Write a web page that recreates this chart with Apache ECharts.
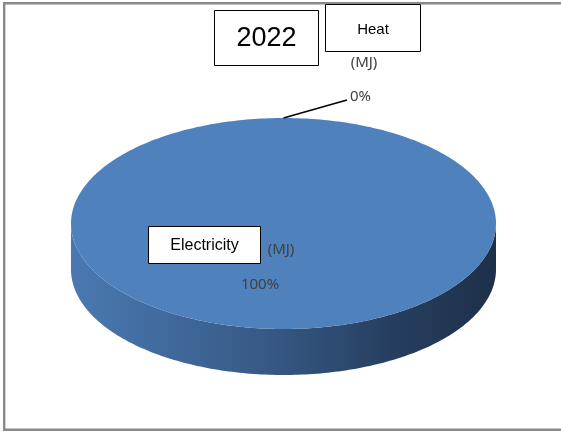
<!DOCTYPE html>
<html>
<head>
<meta charset="utf-8">
<script src="https://cdn.jsdelivr.net/npm/echarts@6/dist/echarts.min.js"></script>
<style>
  html, body { margin: 0; padding: 0; background: #fff; }
  #chart { width: 561px; height: 432px; }
</style>
</head>
<body>
<div id="chart"></div>
<script>
// Energy split for the year, as shares of the total
const categories = ['Electricity', 'Heat'];
const shares = [100, 0];
const unit = '(MJ)';
const year = '2022';

// Geometry of the tilted (3D-looking) pie
const pie = { cx: 283.5, cy: 223.5, rx: 212.5, ry: 105.5, depth: 46 };
const topColor = '#4f81bd';

const total = shares.reduce((a, b) => a + b, 0);
const startAngles = [];
let acc = 0;
shares.forEach(v => { startAngles.push(acc / total * 360); acc += v; });

// angle in degrees, clockwise from 12 o'clock
function pt(deg, dy) {
  const r = deg * Math.PI / 180;
  return [pie.cx + pie.rx * Math.sin(r), pie.cy - pie.ry * Math.cos(r) + (dy || 0)];
}
function arc(a0, a1, dy) {
  const n = Math.max(2, Math.ceil(Math.abs(a1 - a0)));
  const out = [];
  for (let i = 0; i <= n; i++) out.push(pt(a0 + (a1 - a0) * i / n, dy));
  return out;
}
function pctText(v) { return Math.round(v / total * 100) + '%'; }

const labelFont = '15px "Noto Sans"';

const sideGradient = new echarts.graphic.LinearGradient(
  pie.cx - pie.rx, 0, pie.cx + pie.rx, 0,
  [
    { offset: 0, color: '#4a79b2' },
    { offset: 0.45, color: '#375a86' },
    { offset: 0.75, color: '#263f60' },
    { offset: 1, color: '#1e3049' }
  ],
  true
);

function renderSlice(params, api) {
  const i = params.dataIndex;
  const v = api.value(1);
  const a0 = startAngles[i];
  const a1 = a0 + v / total * 360;
  const children = [];
  if (a1 > a0) {
    // front wall: only the part facing the viewer (3 o'clock to 9 o'clock via 6)
    const s = Math.max(a0, 90), e = Math.min(a1, 270);
    if (e > s) {
      const wall = arc(s, e, 0).concat(arc(e, s, pie.depth));
      children.push({ type: 'polygon', shape: { points: wall }, style: { fill: sideGradient }, z2: 1 });
    }
    const face = (a1 - a0 >= 360) ? arc(a0, a1, 0) : [[pie.cx, pie.cy]].concat(arc(a0, a1, 0));
    children.push({ type: 'polygon', shape: { points: face }, style: { fill: topColor }, z2: 2 });
  }
  if (v / total < 0.05) {
    // thin slice: pull the label out with a leader line
    const p = pt((a0 + a1) / 2, 0);
    children.push({
      type: 'line',
      shape: { x1: p[0], y1: p[1], x2: 347, y2: 100 },
      style: { stroke: '#000', lineWidth: 1.5 },
      z2: 3
    });
    children.push({
      type: 'text',
      x: 350, y: 97,
      style: { text: pctText(v), fill: '#404040', font: labelFont, align: 'left', verticalAlign: 'middle' },
      z2: 3
    });
  } else {
    children.push({
      type: 'text',
      x: 260, y: 285,
      style: { text: pctText(v), fill: '#404040', font: labelFont, align: 'center', verticalAlign: 'middle' },
      z2: 3
    });
  }
  return { type: 'group', children };
}

const boxFont = '"Liberation Sans", Arial, sans-serif';
const chart = echarts.init(document.getElementById('chart'), null, { renderer: 'canvas' });
chart.setOption({
  animation: false,
  backgroundColor: '#fff',
  series: [{
    type: 'custom',
    coordinateSystem: 'none',
    renderItem: renderSlice,
    data: categories.map((c, i) => ({ name: c, value: [i, shares[i]] }))
  }],
  graphic: [
    // chart area frame
    { type: 'rect', shape: { x: 4.2, y: 3.2, width: 600, height: 426.5 }, style: { fill: 'none', stroke: '#8a8a8a', lineWidth: 2.4 }, z: 0 },
    // year box
    { type: 'rect', shape: { x: 214.5, y: 10.5, width: 104, height: 55 }, style: { fill: '#fff', stroke: '#000', lineWidth: 1 }, z: 5 },
    { type: 'text', x: 266.5, y: 38.5, style: { text: year, font: '27px ' + boxFont, fill: '#000', align: 'center', verticalAlign: 'middle' }, z: 6 },
    // Heat label
    { type: 'rect', shape: { x: 325.5, y: 4.5, width: 95, height: 47 }, style: { fill: '#fff', stroke: '#000', lineWidth: 1 }, z: 5 },
    { type: 'text', x: 373, y: 29.5, style: { text: categories[1], font: '15px ' + boxFont, fill: '#000', align: 'center', verticalAlign: 'middle' }, z: 6 },
    { type: 'text', x: 364, y: 63, style: { text: unit, font: labelFont, fill: '#404040', align: 'center', verticalAlign: 'middle' }, z: 6 },
    // Electricity label
    { type: 'rect', shape: { x: 148.5, y: 226.5, width: 112, height: 37 }, style: { fill: '#fff', stroke: '#000', lineWidth: 1 }, z: 5 },
    { type: 'text', x: 204.5, y: 246, style: { text: categories[0], font: '16px ' + boxFont, fill: '#000', align: 'center', verticalAlign: 'middle' }, z: 6 },
    { type: 'text', x: 281, y: 250, style: { text: unit, font: labelFont, fill: '#404040', align: 'center', verticalAlign: 'middle' }, z: 6 }
  ]
});
</script>
</body>
</html>
